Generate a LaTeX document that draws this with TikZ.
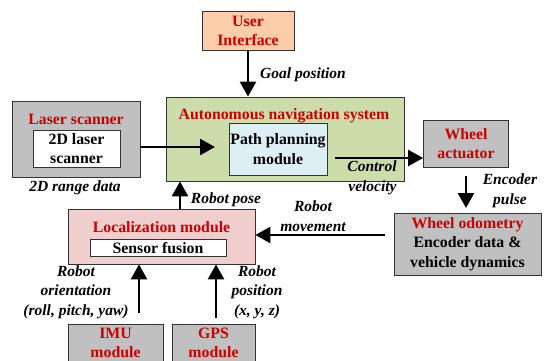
\documentclass[tikz,border=0pt]{standalone}
\usepackage{fontspec}
\setmainfont{Liberation Serif}
\usetikzlibrary{arrows.meta,calc}
\definecolor{titlered}{HTML}{CC0000}
\definecolor{uifill}{HTML}{FBCDA8}
\definecolor{navfill}{HTML}{CCDCAA}
\definecolor{pathfill}{HTML}{DDEEF5}
\definecolor{grayfill}{HTML}{C0C0C0}
\definecolor{locfill}{HTML}{F0CECE}
\tikzset{
  box/.style={draw=black!80, line width=0.8pt, inner sep=0pt, font=\bfseries},
  ttl/.style={text=titlered, font=\bfseries\fontsize{15.8}{19.5}\selectfont, align=center, inner sep=0pt},
  body/.style={font=\bfseries\fontsize{15.8}{19.5}\selectfont, align=center, inner sep=0pt},
  lbl/.style={font=\bfseries\itshape\fontsize{15.5}{19.5}\selectfont, align=center, inner sep=0pt},
  arr/.style={line width=2.6pt, -{Triangle[length=15pt,width=16pt]}},
}
\begin{document}
\begin{tikzpicture}[x=1pt,y=-1pt]
\useasboundingbox (0,0) rectangle (545,360);
\clip (0,0) rectangle (545,360);

% user interface
\node[box, fill=uifill, minimum width=92pt, minimum height=39pt] (ui) at (248,31) {};
\node[ttl] (uit) at (248,31) {User\\Interface};

% navigation system with path planner
\node[box, fill=navfill, minimum width=238pt, minimum height=84pt] (nav) at (285,139) {};
\node[ttl] (navt) at (284,116) {Autonomous navigation system};
\node[box, fill=pathfill, minimum width=98pt, minimum height=52pt] (path) at (278,149) {};
\node[body] (patht) at (278,149) {Path planning\\module};

% laser scanner
\node[box, fill=grayfill, minimum width=128pt, minimum height=76pt] (laser) at (76,139.5) {};
\node[ttl] (lasert) at (76,119) {Laser scanner};
\node[box, fill=white, minimum width=87pt, minimum height=37pt] (laserin) at (76.5,148.5) {};
\node[body] (laserint) at (76.5,148.5) {2D laser\\scanner};
\node[lbl] (rangel) at (75,188) {2D range data};

% wheel actuator
\node[box, fill=grayfill, minimum width=85pt, minimum height=47pt] (act) at (466,143.5) {};
\node[ttl] (actt) at (466,143.5) {Wheel\\actuator};

% wheel odometry
\node[box, fill=grayfill, minimum width=147pt, minimum height=62pt] (odo) at (467.5,244) {};
\node[body] (odot) at (467.5,244) {\textcolor{titlered}{Wheel odometry}\\Encoder data \&\\vehicle dynamics};

% localization module
\node[box, fill=locfill, minimum width=187pt, minimum height=55pt] (loc) at (161.5,236.5) {};
\node[ttl] (loct) at (161.5,227) {Localization module};
\node[box, fill=white, minimum width=136pt, minimum height=17pt] (fus) at (158,248) {};
\node[body] (fust) at (158,248) {Sensor fusion};

% sensors
\node[box, fill=grayfill, minimum width=95pt, minimum height=56pt] (imu) at (115.5,352) {};
\node[ttl] (imut) at (115.5,343) {IMU\\module};
\node[box, fill=grayfill, minimum width=83pt, minimum height=56pt] (gps) at (213.5,352) {};
\node[ttl] (gpst) at (213.5,343) {GPS\\module};

% arrow end points
\coordinate (lasertip) at (215,147);
\coordinate (ctrlstart) at (335,158);
\coordinate (encstart) at (466,176);
\coordinate (encend) at (466,208);
\coordinate (movestart) at (385,235);
\coordinate (posex) at (180,0);
\coordinate (imustart) at (139,313);
\coordinate (gpsstart) at (216,318);

% connectors
\draw[arr] (ui.south) -- (ui.south |- nav.north);
\draw[arr] (laser.east |- lasertip) -- (lasertip);
\draw[arr] (ctrlstart) -- (ctrlstart -| act.west);
\draw[arr] (encstart) -- (encend);
\draw[arr] (movestart) -- (movestart -| loc.east);
\draw[arr] (posex |- loc.north) -- (posex |- nav.south);
\draw[arr] (imustart) -- (imustart |- loc.south);
\draw[arr] (gpsstart) -- (gpsstart |- loc.south);

% labels
\node[lbl] (goall) at (303,75) {Goal position};
\node[lbl, align=right] (ctrll) at (372,178) {Control\\velocity};
\node[lbl] (encl) at (510,191) {Encoder\\pulse};
\node[lbl] (movel) at (313,216) {Robot\\movement};
\node[lbl] (posel) at (226,200) {Robot pose};
\node[lbl] (orientl) at (76,292) {Robot\\orientation\\(roll, pitch, yaw)};
\node[lbl] (posl) at (257,292) {Robot\\position\\(x, y, z)};
\end{tikzpicture}
\end{document}
